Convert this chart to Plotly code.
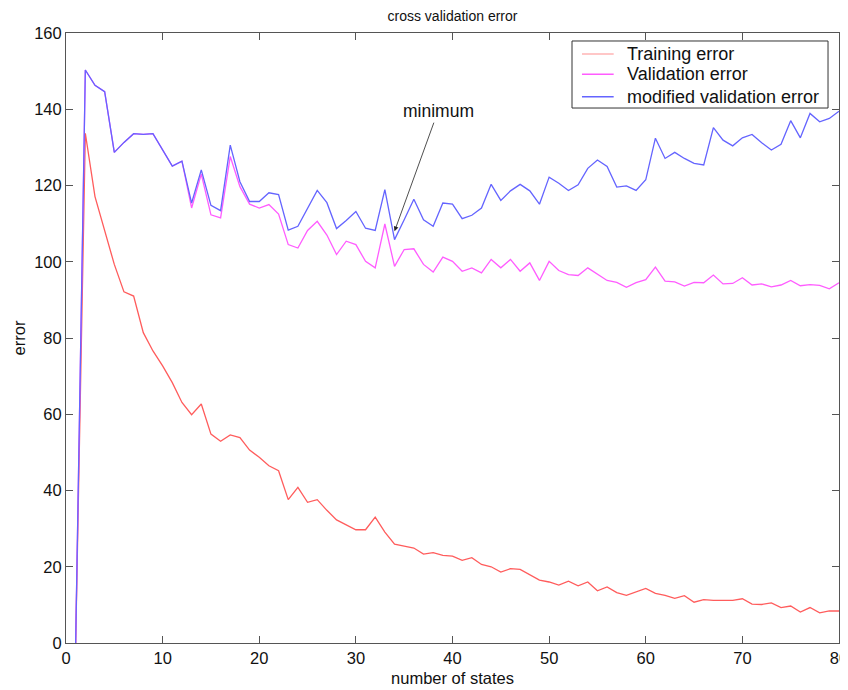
import plotly.graph_objects as go

states = list(range(1, 81))

training_error = [
    0, 133.7, 117.1, 108.0, 99.3, 92.1, 91.0, 81.4, 76.6, 72.7,
    68.3, 63.1, 59.9, 62.7, 54.8, 52.9, 54.6, 53.9, 50.6, 48.7,
    46.5, 45.2, 37.6, 40.8, 36.9, 37.6, 34.8, 32.3, 31.0, 29.7,
    29.7, 33.0, 29.1, 25.9, 25.4, 24.9, 23.3, 23.7, 23.0, 22.8,
    21.7, 22.4, 20.6, 20.0, 18.6, 19.5, 19.3, 18.0, 16.5, 16.0,
    15.2, 16.2, 15.0, 16.0, 13.7, 14.7, 13.2, 12.5, 13.4, 14.3,
    13.0, 12.5, 11.7, 12.4, 10.7, 11.4, 11.2, 11.2, 11.2, 11.6,
    10.2, 10.1, 10.5, 9.3, 9.7, 8.1, 9.3, 7.9, 8.4, 8.4,
]

validation_error = [
    0, 150.3, 146.3, 144.6, 128.7, 131.3, 133.6, 133.4, 133.6, 129.3,
    125.1, 126.4, 114.1, 123.0, 112.3, 111.5, 127.6, 119.7, 115.1, 114.1,
    115.0, 112.5, 104.5, 103.6, 108.2, 110.6, 107.0, 101.9, 105.4, 104.5,
    100.1, 98.4, 109.9, 98.8, 103.2, 103.4, 99.3, 97.3, 101.2, 100.1,
    97.5, 98.4, 97.1, 100.6, 98.4, 100.6, 97.5, 99.7, 95.1, 100.1,
    97.7, 96.6, 96.4, 98.4, 96.8, 95.1, 94.6, 93.3, 94.5, 95.3,
    98.6, 94.9, 94.7, 93.6, 94.6, 94.5, 96.5, 94.2, 94.3, 95.8,
    93.9, 94.2, 93.4, 93.9, 95.1, 93.7, 94.0, 93.8, 92.9, 94.5,
]

modified_validation_error = [
    0, 150.3, 146.3, 144.6, 128.7, 131.3, 133.6, 133.4, 133.6, 129.3,
    125.1, 126.4, 115.4, 124.1, 114.8, 113.4, 130.6, 121.0, 115.8, 115.8,
    118.1, 117.6, 108.3, 109.3, 114.2, 118.7, 115.5, 108.7, 110.8, 113.2,
    108.8, 108.2, 118.9, 105.8, 111.0, 116.4, 111.0, 109.3, 115.4, 115.1,
    111.3, 112.2, 114.1, 120.3, 116.1, 118.6, 120.3, 118.6, 115.1, 122.2,
    120.6, 118.7, 120.2, 124.5, 126.7, 125.0, 119.6, 119.9, 118.7, 121.5,
    132.4, 127.1, 128.7, 127.1, 125.8, 125.4, 135.2, 131.9, 130.4, 132.5,
    133.4, 131.2, 129.3, 130.8, 137.0, 132.5, 138.9, 136.7, 137.6, 139.5,
]

series_names = ["Training error", "Validation error", "modified validation error"]
series_colors = ["#ff5c5c", "#ff5cff", "#6464ff"]
legend_colors = ["#ffb4b4", "#ff5cff", "#6464ff"]

x_ticks = [0, 10, 20, 30, 40, 50, 60, 70, 80]
y_ticks = [0, 20, 40, 60, 80, 100, 120, 140, 160]

min_state = 34
min_value = 108.0

FONT = "Liberation Sans, Arial, Helvetica, sans-serif"
TXT = "#111111"

fig = go.Figure()
for name, ys, col in zip(series_names,
                         [training_error, validation_error, modified_validation_error],
                         series_colors):
    fig.add_trace(go.Scatter(x=states, y=ys, mode="lines", name=name,
                             line=dict(color=col, width=1.3),
                             showlegend=False))

axis_common = dict(
    showline=True, linecolor="#555555", linewidth=1, mirror="ticks",
    ticks="inside", ticklen=7, tickcolor="#555555", tickwidth=1,
    showgrid=False, zeroline=False, ticklabeloverflow="allow", automargin=False,
    tickfont=dict(family=FONT, size=16.5, color=TXT),
)

fig.update_layout(
    width=840, height=682,
    margin=dict(l=58, r=9, t=25, b=47),
    paper_bgcolor="white", plot_bgcolor="white",
    font=dict(family=FONT, size=16, color=TXT),
    title=dict(text="cross validation error", x=0.5, xref="paper", xanchor="center",
               y=1 - 8 / 682, yanchor="middle", yref="container",
               font=dict(family=FONT, size=14, color=TXT)),
    xaxis=dict(range=[0, 80], tickvals=x_ticks, ticktext=[str(v) for v in x_ticks],
               title=dict(text="number of states", standoff=6,
                          font=dict(family=FONT, size=16.5, color=TXT)),
               **axis_common),
    yaxis=dict(range=[0, 160], tickvals=y_ticks, ticktext=[str(v) for v in y_ticks],
               title=dict(text="error", standoff=4,
                          font=dict(family=FONT, size=16.5, color=TXT)),
               **axis_common),
    showlegend=False,
)

# legend box (MATLAB style), drawn in paper coordinates
leg_x0, leg_x1, leg_y0, leg_y1 = 0.6546, 0.9858, 0.877, 0.9869
fig.add_shape(type="rect", xref="paper", yref="paper",
              x0=leg_x0, x1=leg_x1, y0=leg_y0, y1=leg_y1,
              line=dict(color="#333333", width=1), fillcolor="white", layer="above")
row_y = [0.9656, 0.9323, 0.8956]
for name, col, ry in zip(series_names, legend_colors, row_y):
    fig.add_shape(type="line", xref="paper", yref="paper",
                  x0=0.6675, x1=0.7085, y0=ry, y1=ry,
                  line=dict(color=col, width=1.6), layer="above")
    fig.add_annotation(x=0.7232, y=ry, xref="paper", yref="paper",
                       text=name, showarrow=False, xanchor="left", yanchor="middle",
                       font=dict(family=FONT, size=18, color=TXT))

fig.add_annotation(
    x=min_state, y=min_value, xref="x", yref="y",
    ax=38.5, ay=139.5, axref="x", ayref="y",
    text="minimum", showarrow=True,
    arrowhead=2, arrowsize=1.2, arrowwidth=0.8, arrowcolor="#222222",
    font=dict(family=FONT, size=17.5, color=TXT),
)

fig.write_html("out.html")
